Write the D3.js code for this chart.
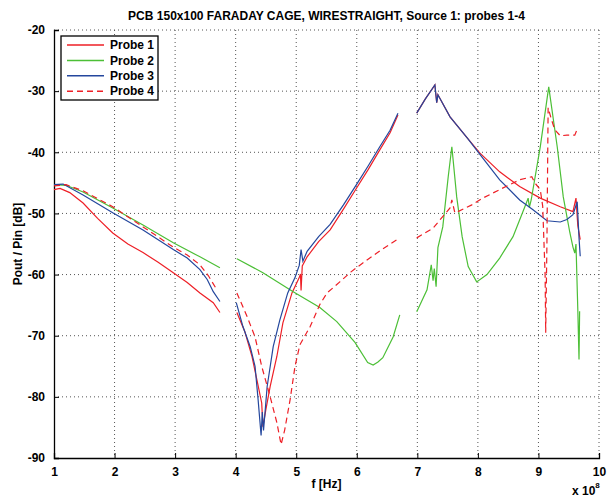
<!DOCTYPE html>
<html>
<head>
<meta charset="utf-8">
<script src="https://cdn.jsdelivr.net/npm/d3@7"></script>
<style>
  body { margin: 0; background: #fff; }
  text { font-family: "Liberation Sans", Arial, sans-serif; font-weight: bold; }
</style>
</head>
<body>
<div id="svgArea"></div>
<script>
var width = 609;
var height = 498;
var plotLeft = 54, plotRight = 599, plotTop = 30, plotBottom = 458;

// values, f in units of 1e8 Hz, null = gap between bands
var probe1 = [
  [1.00,-46.1],[1.10,-45.9],[1.26,-46.6],[1.48,-48.3],[1.72,-50.8],[1.97,-53.2],[2.22,-55.0],
  [2.47,-56.4],[2.72,-58.0],[2.97,-59.7],[3.20,-61.3],[3.41,-63.0],[3.63,-64.6],[3.74,-66.2],
  null,
  [4.02,-66.2],[4.15,-69.3],[4.27,-73.4],[4.35,-77.2],[4.43,-81.0],[4.45,-84.9],[4.50,-82.0],
  [4.57,-78.3],[4.68,-73.4],[4.78,-67.9],[4.93,-63.0],[5.05,-60.5],[5.07,-59.9],[5.08,-62.6],
  [5.10,-58.6],[5.18,-57.1],[5.37,-54.6],[5.56,-52.7],[5.78,-49.3],[6.00,-45.8],[6.19,-42.8],
  [6.38,-39.6],[6.55,-36.8],[6.68,-33.9],
  null,
  [6.99,-33.6],[7.13,-31.3],[7.29,-29.0],[7.32,-31.9],[7.34,-30.6],[7.54,-34.2],[7.82,-37.6],
  [8.03,-40.1],[8.36,-43.2],[8.69,-45.6],[9.03,-47.5],[9.36,-48.9],[9.57,-49.7],[9.62,-47.5],
  [9.65,-52.0],[9.69,-54.3]
];
var probe2 = [
  [1.00,-45.3],[1.20,-45.4],[1.48,-46.5],[1.97,-49.1],[2.47,-51.9],[2.97,-54.8],[3.41,-57.1],
  [3.74,-58.9],
  null,
  [4.02,-57.4],[4.45,-59.7],[4.95,-62.8],[5.39,-65.4],[5.67,-67.7],[5.97,-71.1],[6.18,-74.4],
  [6.27,-74.8],[6.35,-74.3],[6.43,-73.6],[6.60,-70.2],[6.71,-66.6],
  null,
  [6.99,-66.1],[7.16,-62.5],[7.23,-58.4],[7.26,-61.0],[7.28,-59.0],[7.31,-62.0],[7.34,-55.6],
  [7.42,-52.2],[7.51,-44.0],[7.57,-39.1],[7.65,-47.3],[7.74,-53.8],[7.84,-58.7],[7.98,-61.2],
  [8.15,-60.0],[8.36,-57.3],[8.58,-53.8],[8.80,-48.3],[8.83,-47.5],[8.85,-49.0],[8.88,-47.8],
  [9.03,-39.1],[9.17,-29.3],[9.31,-39.1],[9.41,-47.3],[9.52,-53.2],[9.57,-55.5],[9.60,-56.5],
  [9.62,-55.0],[9.65,-65.7],[9.67,-73.9],[9.68,-66.0]
];
var probe3 = [
  [1.00,-45.3],[1.15,-45.2],[1.48,-47.0],[1.97,-49.9],[2.47,-52.7],[2.97,-55.9],[3.20,-57.3],
  [3.41,-59.2],[3.53,-60.8],[3.63,-62.8],[3.74,-64.4],
  null,
  [4.01,-64.6],[4.12,-68.5],[4.24,-71.8],[4.32,-75.0],[4.37,-80.4],[4.42,-86.3],[4.44,-82.5],
  [4.46,-85.5],[4.52,-78.3],[4.62,-71.8],[4.73,-67.4],[4.86,-63.0],[4.98,-60.5],[5.05,-58.5],
  [5.08,-55.9],[5.11,-57.8],[5.18,-56.2],[5.37,-53.8],[5.56,-51.8],[5.78,-48.6],[6.00,-45.2],
  [6.19,-42.2],[6.38,-39.1],[6.55,-36.4],[6.68,-33.6],
  null,
  [6.99,-33.6],[7.13,-31.3],[7.29,-29.0],[7.32,-31.9],[7.34,-30.6],[7.54,-34.2],[7.82,-37.6],
  [8.03,-40.3],[8.36,-44.5],[8.69,-47.8],[8.91,-49.4],[9.14,-51.2],[9.36,-51.4],[9.47,-51.0],
  [9.57,-50.2],[9.64,-48.1],[9.67,-54.0],[9.69,-57.0]
];
var probe4 = [
  [1.00,-45.5],[1.20,-45.3],[1.48,-46.3],[1.97,-48.9],[2.47,-52.2],[2.97,-55.5],[3.20,-56.8],
  [3.41,-58.4],[3.55,-60.2],[3.69,-62.5],
  null,
  [4.02,-63.0],[4.19,-66.9],[4.32,-70.2],[4.43,-75.0],[4.57,-80.0],[4.68,-84.2],[4.75,-87.8],
  [4.81,-85.4],[4.90,-80.4],[4.98,-75.0],[5.06,-71.5],[5.23,-68.5],[5.39,-64.9],[5.51,-63.0],
  [5.72,-61.2],[5.90,-59.6],[6.10,-58.1],[6.40,-56.0],[6.71,-54.0],
  null,
  [6.99,-54.0],[7.26,-52.4],[7.54,-49.1],[7.57,-47.8],[7.62,-49.9],[7.67,-49.7],[7.90,-48.6],
  [8.08,-47.5],[8.36,-46.1],[8.69,-44.5],[8.89,-44.0],[8.94,-45.0],[9.03,-46.1],[9.07,-48.8],
  [9.11,-60.0],[9.12,-69.5],[9.14,-55.0],[9.16,-32.7],[9.21,-34.5],[9.27,-36.3],[9.36,-37.3],
  [9.47,-37.2],[9.60,-37.2],[9.65,-36.0]
];

var names = ['Probe 1', 'Probe 2', 'Probe 3', 'Probe 4'];
var colors = ['#ee1f26', '#4cbf36', '#24479d', '#ee1f26'];
var dashes = [null, null, null, '6,4'];
var series = [probe1, probe2, probe3, probe4];

var xTicks = [1, 2, 3, 4, 5, 6, 7, 8, 9, 10];
var yTicks = [-90, -80, -70, -60, -50, -40, -30, -20];

var svg = d3.select('#svgArea')
  .append('svg')
  .attr('width', width)
  .attr('height', height);

var xScale = d3.scaleLinear().domain([1, 10]).range([plotLeft, plotRight]);
var yScale = d3.scaleLinear().domain([-90, -20]).range([plotBottom, plotTop]);

// dotted grid
svg.append('g')
  .selectAll('line')
  .data(xTicks.slice(1))
  .enter()
  .append('line')
  .attr('x1', d => xScale(d)).attr('x2', d => xScale(d))
  .attr('y1', plotTop).attr('y2', plotBottom)
  .attr('stroke', '#555').attr('stroke-width', 1).attr('stroke-dasharray', '1,3');

svg.append('g')
  .selectAll('line')
  .data(yTicks.slice(1))
  .enter()
  .append('line')
  .attr('x1', plotLeft).attr('x2', plotRight)
  .attr('y1', d => yScale(d)).attr('y2', d => yScale(d))
  .attr('stroke', '#555').attr('stroke-width', 1).attr('stroke-dasharray', '1,3');

// axes (plain hyphen minus like matlab)
var xAxis = d3.axisBottom(xScale).tickValues(xTicks).tickSize(-5).tickPadding(9).tickFormat(d => String(d));
svg.append('g')
  .attr('transform', 'translate(0,' + plotBottom + ')')
  .call(xAxis);

var yAxis = d3.axisLeft(yScale).tickValues(yTicks).tickSize(-5).tickPadding(9).tickFormat(d => String(d));
svg.append('g')
  .attr('transform', 'translate(' + plotLeft + ',0)')
  .call(yAxis);

svg.selectAll('.domain').attr('stroke', '#000').attr('stroke-width', 1.3);
svg.selectAll('.tick line').attr('stroke', '#000').attr('stroke-width', 1);
svg.selectAll('.tick text')
  .attr('fill', '#000')
  .style('font-size', '12px')
  .style('font-family', '"Liberation Sans", Arial, sans-serif')
  .style('font-weight', 'bold');

// lines
var line = d3.line()
  .defined(d => d !== null)
  .x(d => xScale(d[0]))
  .y(d => yScale(d[1]));

series.forEach((s, i) => {
  svg.append('path')
    .datum(s)
    .attr('fill', 'none')
    .attr('stroke', colors[i])
    .attr('stroke-width', 1.2)
    .attr('stroke-dasharray', dashes[i])
    .attr('d', line);
});

// titles
svg.append('text')
  .attr('x', (plotLeft + plotRight) / 2).attr('y', 20)
  .attr('text-anchor', 'middle')
  .style('font-size', '12px')
  .text('PCB 150x100 FARADAY CAGE, WIRESTRAIGHT, Source 1: probes 1-4');

svg.append('text')
  .attr('x', (plotLeft + plotRight) / 2).attr('y', 488)
  .attr('text-anchor', 'middle')
  .style('font-size', '12px')
  .text('f [Hz]');

svg.append('text')
  .attr('transform', 'translate(22,' + (plotTop + plotBottom) / 2 + ') rotate(-90)')
  .attr('text-anchor', 'middle')
  .style('font-size', '12px')
  .text('Pout / Pin [dB]');

var expo = svg.append('text')
  .attr('x', 572).attr('y', 495)
  .style('font-size', '12px');
expo.append('tspan').text('x 10');
expo.append('tspan').attr('dy', -7).style('font-size', '8px').text('8');

// legend
var legend = svg.append('g');
legend.append('rect')
  .attr('x', 61).attr('y', 36)
  .attr('width', 97).attr('height', 64)
  .attr('fill', '#fff')
  .attr('stroke', '#000')
  .attr('stroke-width', 1.3);

names.forEach((n, i) => {
  var ly = 45 + i * 15.4;
  legend.append('line')
    .attr('x1', 67).attr('x2', 104)
    .attr('y1', ly).attr('y2', ly)
    .attr('stroke', colors[i])
    .attr('stroke-width', 1.5)
    .attr('stroke-dasharray', dashes[i]);
  legend.append('text')
    .attr('x', 110).attr('y', ly)
    .attr('dy', '0.35em')
    .style('font-size', '12px')
    .text(n);
});
</script>
</body>
</html>
